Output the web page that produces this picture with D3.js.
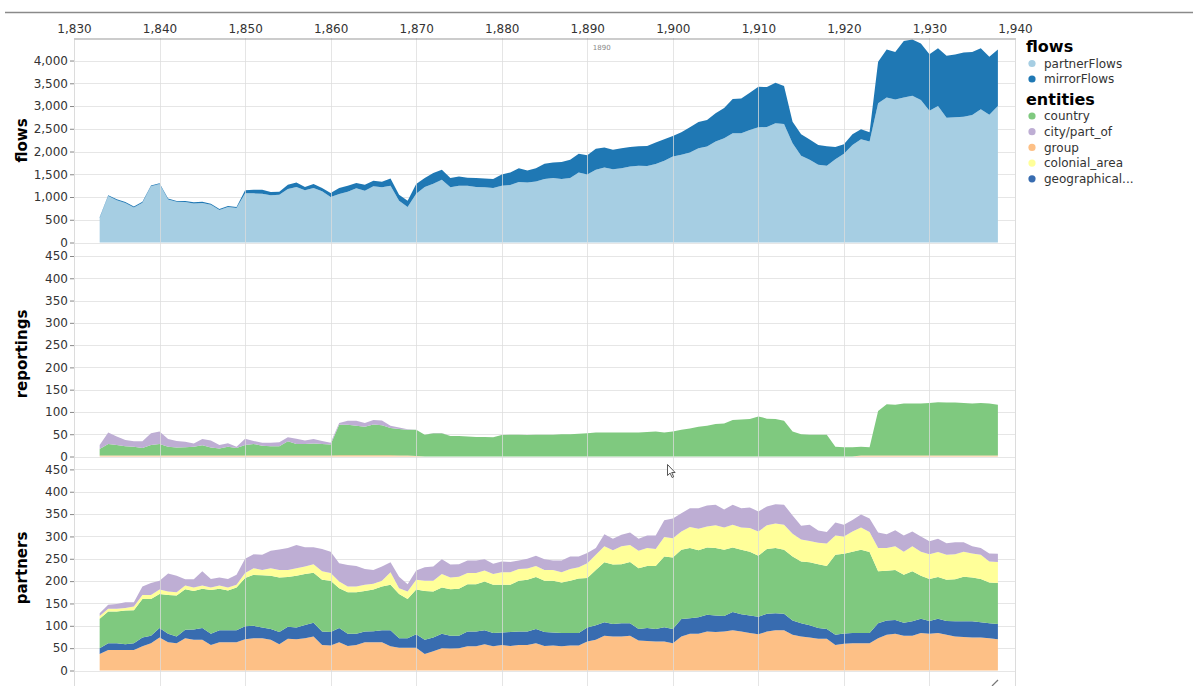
<!DOCTYPE html>
<html><head><meta charset="utf-8">
<script src="https://cdn.jsdelivr.net/npm/d3@7"></script>
<style>body{margin:0;background:#fff;overflow:hidden;} text{font-family:"DejaVu Sans",sans-serif;}</style>
</head><body><svg id="c" width="1193" height="686"></svg>
<script>
const years = [1833,1834,1835,1836,1837,1838,1839,1840,1841,1842,1843,1844,1845,1846,1847,1848,1849,1850,1851,1852,
1853,1854,1855,1856,1857,1858,1859,1860,1861,1862,1863,1864,1865,1866,1867,1868,1869,1870,1871,1872,
1873,1874,1875,1876,1877,1878,1879,1880,1881,1882,1883,1884,1885,1886,1887,1888,1889,1890,1891,1892,
1893,1894,1895,1896,1897,1898,1899,1900,1901,1902,1903,1904,1905,1906,1907,1908,1909,1910,1911,1912,
1913,1914,1915,1916,1917,1918,1919,1920,1921,1922,1923,1924,1925,1926,1927,1928,1929,1930,1931,1932,
1933,1934,1935,1936,1937,1938];

const partnerFlows = [540,1020,930,870,770,875,1235,1285,945,895, 890,860,870,830,715,780,760,1080,1080,1073,
1037,1050,1175,1220,1146,1197,1124,1000,1066,1117, 1190,1139,1234,1212,1248,920,781,1073,1220,1292,
1380,1212,1248,1248,1220,1212,1197,1248,1263,1329, 1321,1343,1394,1416,1394,1416,1540,1496,1600,1650,
1613,1635,1672,1686,1679,1723,1796,1891,1927,1978, 2073,2110,2219,2292,2402,2402,2475,2533,2540,2621,
2606,2183,1905,1818,1708,1686,1832,1949,2146,2270, 2219,3059,3190,3146,3190,3227,3132,2898,3000,2745,
2752,2767,2803,2927,2810,3000];
const mirrorFlows = [15,20,20,20,20,20,20,20,20,20, 20,25,25,20,20,20,20,66,80,87,
73,67,95,100,74,88,73,88,131,131, 117,131,124,124,161,131,139,212,196,234,
219,204,205,176,196,197,197,248,277,306, 263,292,336,344,373,402,409,424,459,438,
424,438,430,431,445,474,474,452,497,555, 577,584,621,665,752,766,817,891,876,890,
832,474,475,445,438,431,270,212,234,219, 205,912,1051,1044,1241,1233,1241,1241,1270,1358,
1380,1409,1387,1343,1271,1241];

const repGroup = [2,2,2,2,2,2,2,2,2,2, 2,2,2,2,2,2,2,2,2,2,
2,2,2,2,2,2,2,2,3,3, 3,3,3,3,3,2,2,1,0,0,
0,0,0,0,0,0,0,0,0,0, 0,0,0,0,0,0,0,0,0,0,
0,0,0,0,0,0,0,0,0,0, 0,0,0,0,0,0,0,0,0,0,
0,0,0,0,0,0,0,0,0,2, 2,2,2,2,2,2,2,2,2,2,
2,2,2,2,2,2];
const repCountry = [15,26,24,21,20,17,24,26,20,18, 19,20,23,18,16,20,17,24,26,22,
21,21,32,26,26,27,26,25,68,68, 66,64,69,67,61,60,58,59,49,52,
52,46,46,45,44,44,43,48,49,49, 48,49,49,49,50,50,51,52,54,54,
54,54,54,54,55,56,54,56,60,63, 67,69,73,74,82,83,84,90,85,84,
80,56,50,49,49,49,22,21,21,20, 19,100,115,114,117,117,117,118,120,119,
119,118,117,118,117,114];
const repCity = [9,26,19,14,12,15,26,28,17,15, 12,7,14,16,8,8,3,14,7,7,
8,9,9,12,8,10,7,4,4,9, 11,8,10,11,5,3,1,0,0,1,
1,0,0,0,0,0,0,0,0,0, 0,0,0,0,0,0,0,0,0,0,
0,0,0,0,0,0,0,0,0,0, 0,0,0,0,0,0,0,0,0,0,
0,0,0,0,0,0,0,0,0,0, 0,0,0,0,0,0,0,0,0,0,
0,0,0,0,0,0];

const parGroup = [37,46,46,46,46,54,61,74,63,61, 72,69,69,57,63,63,63,70,72,72,
69,59,71,70,72,76,57,56,63,55, 57,63,63,63,54,51,51,51,37,43,
50,49,50,54,54,59,54,57,55,57, 57,61,55,56,54,56,56,65,69,78,
76,76,78,67,66,65,65,61,76,82, 82,87,86,87,90,87,84,81,87,90,
90,80,76,74,71,71,57,60,61,61, 61,72,80,82,78,78,84,82,84,80,
76,75,74,74,72,70];
const parGeo = [13,15,15,13,15,20,17,21,19,15, 19,23,26,25,27,27,27,29,28,24,
24,27,27,26,30,31,30,30,32,27, 25,24,25,27,36,21,21,30,32,31,
32,29,28,33,33,31,30,28,31,30, 30,32,31,29,30,28,28,31,32,30,
28,30,28,26,29,28,32,32,39,35, 37,38,37,35,41,39,39,39,40,38,
37,32,30,27,24,22,23,23,23,23, 23,34,32,31,29,32,32,29,32,31,
34,35,36,34,34,34];
const parCountry = [66,71,71,75,74,86,82,76,87,92, 91,86,88,98,93,89,96,108,114,117,
119,122,111,116,114,112,116,115,89,93, 93,91,93,98,102,99,88,100,109,103,
104,104,105,106,106,109,108,107,106,114, 116,116,115,116,113,117,122,111,124,134,
133,132,137,136,139,141,158,160,155,157, 150,150,151,148,144,144,143,137,145,146,
143,143,138,141,143,141,179,178,182,186, 181,116,111,112,107,112,96,94,93,92,
94,100,98,97,91,92];
const parColonial = [6,6,6,6,8,9,9,10,8,7, 8,8,7,6,7,7,6,11,15,12,
17,17,16,17,17,19,19,17,15,13, 13,14,13,13,28,13,17,22,23,24,
30,26,27,25,25,25,24,28,28,26, 25,25,24,24,23,26,25,33,34,36,
32,40,38,39,40,38,44,43,41,47, 48,47,51,50,51,50,53,54,53,55,
56,51,49,48,48,50,43,39,45,50, 45,52,51,53,52,56,54,55,56,56,
56,56,54,54,47,47];
const parCity = [6,9,11,13,10,19,27,20,40,37, 14,18,32,19,18,19,22,32,31,34,
39,46,49,52,43,38,50,48,41,48, 46,35,31,32,22,26,16,21,30,32,
33,29,28,28,28,25,23,24,23,19, 22,23,24,21,26,28,24,23,15,27,
26,26,28,27,28,30,37,44,41,42, 46,47,46,40,45,43,46,45,42,43,
45,41,31,36,27,26,29,26,26,29, 30,35,31,36,36,33,34,29,30,26,
27,21,16,15,18,18];

const yearTicks = [1830,1840,1850,1860,1870,1880,1890,1900,1910,1920,1930,1940];
const flowTicks = [0,500,1000,1500,2000,2500,3000,3500,4000];
const countTicks = [0,50,100,150,200,250,300,350,400,450];
const flowKeys = ["partnerFlows","mirrorFlows"];
const entityKeys = ["country","city/part_of","group","colonial_area","geographical..."];
const hoverLabel = "1890";

const flowColor = d3.scaleOrdinal().domain(flowKeys).range(["#a6cee3","#1f78b4"]);
const entColor = d3.scaleOrdinal().domain(entityKeys).range(["#7fc97f","#beaed4","#fdc086","#ffff99","#386cb0"]);

const rows = years.map((yr,i)=>({year:yr,
  partnerFlows:partnerFlows[i], mirrorFlows:mirrorFlows[i],
  rGroup:repGroup[i], rCountry:repCountry[i], rCity:repCity[i],
  pGroup:parGroup[i], pGeo:parGeo[i], pCountry:parCountry[i], pColonial:parColonial[i], pCity:parCity[i]}));

const svg = d3.select("#c");
const X0 = 74, X1 = 1015;
const x = d3.scaleLinear().domain([1830,1940]).range([X0,X1]);

const panels = [
  {title:"flows", titleY:140.5, top:38, y:d3.scaleLinear().domain([0,4500]).range([242.5,37.8]), ticks:flowTicks, fmt:d3.format(","),
   layers:[["partnerFlows",flowColor("partnerFlows")],["mirrorFlows",flowColor("mirrorFlows")]]},
  {title:"reportings", titleY:354, top:242.5, y:d3.scaleLinear().domain([0,450]).range([456.5,256]), ticks:countTicks, fmt:d3.format(","),
   layers:[["rGroup",entColor("group")],["rCountry",entColor("country")],["rCity",entColor("city/part_of")]]},
  {title:"partners", titleY:568, top:456.5, y:d3.scaleLinear().domain([0,450]).range([670.5,469.4]), ticks:countTicks, fmt:d3.format(","),
   layers:[["pGroup",entColor("group")],["pGeo",entColor("geographical...")],["pCountry",entColor("country")],["pColonial",entColor("colonial_area")],["pCity",entColor("city/part_of")]]}
];

// top rule
svg.append("line").attr("x1",5).attr("x2",1193).attr("y1",12.5).attr("y2",12.5).attr("stroke","#8a8a8a").attr("stroke-width",1.3);

const gridG = svg.append("g");
const areaG = svg.append("g");
const frontG = svg.append("g");

panels.forEach(p=>{
  // horizontal grid
  gridG.selectAll(null).data(p.ticks).enter().append("line")
    .attr("x1",X0).attr("x2",X1).attr("y1",d=>Math.round(p.y(d))+0.5).attr("y2",d=>Math.round(p.y(d))+0.5)
    .attr("stroke","#e6e6e6").attr("stroke-width",1.2);
  // stacked areas
  const keys = p.layers.map(l=>l[0]);
  const stack = d3.stack().keys(keys)(rows);
  const area = d3.area().x(d=>x(d.data.year)).y0(d=>p.y(d[0])).y1(d=>p.y(d[1]));
  areaG.selectAll(null).data(stack).enter().append("path")
    .attr("d",area).attr("fill",(d,i)=>p.layers[i][1]);
  // y axis
  const ax = d3.axisLeft(p.y).tickValues(p.ticks).tickFormat(p.fmt).tickSize(4).tickPadding(2);
  const g = frontG.append("g").attr("transform",`translate(${X0},0)`).call(ax);
  g.select(".domain").remove();
  g.selectAll(".tick line").attr("stroke","#888");
  g.selectAll(".tick text").attr("fill","#333").style("font-size","12px").style("font-family","'DejaVu Sans',sans-serif");
  frontG.append("text").attr("transform",`translate(27,${p.titleY}) rotate(-90)`)
    .attr("text-anchor","middle").style("font-size","15px").style("font-weight","bold").attr("fill","#000").text(p.title);
});

// vertical grid (drawn over the areas)
frontG.selectAll(null).data(yearTicks).enter().append("line")
  .attr("x1",d=>Math.round(x(d))+0.5).attr("x2",d=>Math.round(x(d))+0.5).attr("y1",38).attr("y2",686)
  .attr("stroke","#dcdcdc").attr("stroke-opacity",d=>(d===1830||d===1940)?1:0.75).attr("stroke-width",1);
// x axis (top)
const xa = d3.axisTop(x).tickValues(yearTicks).tickFormat(d3.format(",")).tickSize(0).tickPadding(6);
const xg = frontG.append("g").attr("transform","translate(0,38.5)").call(xa);
xg.select(".domain").attr("stroke","#999").attr("stroke-width",1.2);
xg.selectAll(".tick text").attr("fill","#333").style("font-size","12px").style("font-family","'DejaVu Sans',sans-serif");

// hover label
frontG.append("text").attr("x",x(1890)+5.5).attr("y",50).style("font-size","7px").attr("fill","#888").text(hoverLabel);

// legend
const lg = frontG.append("g");
lg.append("text").attr("x",1026).attr("y",51.5).style("font-size","16px").style("font-weight","bold").text("flows");
flowKeys.forEach((k,i)=>{
  const cy = 63.5 + i*15.5;
  lg.append("circle").attr("cx",1032).attr("cy",cy).attr("r",3.6).attr("fill",flowColor(k));
  lg.append("text").attr("x",1044).attr("y",cy+4.3).style("font-size","12px").attr("fill","#333").text(k);
});
lg.append("text").attr("x",1026).attr("y",104.5).style("font-size","16px").style("font-weight","bold").text("entities");
entityKeys.forEach((k,i)=>{
  const cy = 116 + i*15.7;
  lg.append("circle").attr("cx",1032).attr("cy",cy).attr("r",3.6).attr("fill",entColor(k));
  lg.append("text").attr("x",1044).attr("y",cy+4.3).style("font-size","12px").attr("fill","#333").text(k);
});

// mouse pointer and resize grip
frontG.append("path").attr("transform","translate(667.5,464.5)")
  .attr("d","M0,0 L0,11 L2.6,8.6 L4.6,13 L6.2,12.3 L4.2,8 L7.6,8 Z")
  .attr("fill","#fff").attr("stroke","#444").attr("stroke-width",0.9);
frontG.append("line").attr("x1",992).attr("y1",686).attr("x2",998).attr("y2",680).attr("stroke","#777").attr("stroke-width",1.2);
</script></body></html>
